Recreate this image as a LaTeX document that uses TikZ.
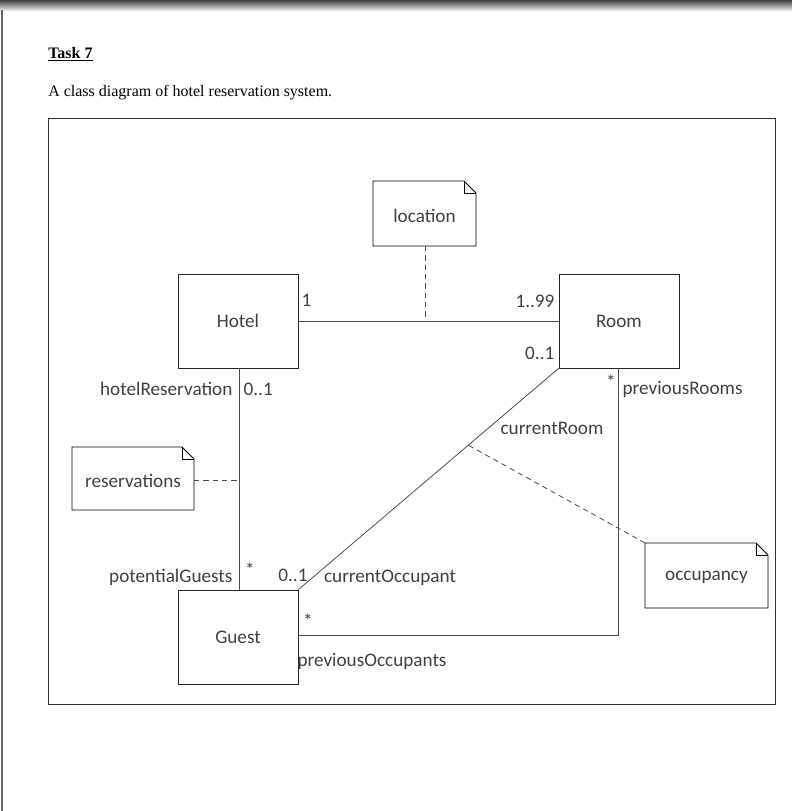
\documentclass[tikz,border=0pt]{standalone}
\usepackage{fontspec}
\setmainfont{Liberation Serif}
\newfontfamily\hand{Carlito}
\begin{document}
\begin{tikzpicture}[x=0.75pt,y=-0.75pt,
  cls/.style={draw=black!85,line width=0.6pt,minimum width=90pt,minimum height=70.5pt,inner sep=0pt,font=\hand\Large,text=black!75},
  lbl/.style={font=\hand\Large,text=black!75,inner sep=1pt},
  ln/.style={draw=black!70,line width=0.6pt},
  dsh/.style={draw=black!70,line width=0.6pt,dash pattern=on 4pt off 3pt}]
\useasboundingbox (0,0) rectangle (792,811);
\shade[top color=black!75,bottom color=black!10] (0,0) rectangle (792,10);
\draw[black!60,line width=1pt] (2,10) -- (2,811);
\node[anchor=base west,font=\fontsize{12}{14}\selectfont\bfseries,inner sep=0pt] (title) at (48,58) {\underline{Task 7}};
\node[anchor=base west,font=\fontsize{12}{14}\selectfont,inner sep=0pt] (sub) at (48,96) {A class diagram of hotel reservation system.};
\draw[black!80,line width=0.7pt] (48,118) rectangle (775,704);
% notes
\newcommand\notebox[5]{%
  \draw[line width=0.6pt] (#1,#2) -- (#3-12,#2) -- (#3,#2+12) -- (#3,#4) -- (#1,#4) -- cycle;
  \draw[line width=0.6pt] (#3-12,#2) -- (#3-12,#2+12) -- (#3,#2+12);
  \node[lbl] at ({(#1+#3)/2},{(#2+#4)/2+2}) {#5};}
\notebox{373}{181}{476}{246}{location}
\notebox{72}{447}{194}{510}{reservations}
\notebox{645}{543}{768}{608}{occupancy}
\coordinate (loc) at (425,246);
\coordinate (res) at (194,480);
\coordinate (occ) at (645,543);
\node[cls] (hotel) at (238,321) {Hotel};
\node[cls] (room) at (619,321) {Room};
\node[cls] (guest) at (238,637) {Guest};
\draw[ln] (hotel.east) -- (room.west);
\draw[dsh] (loc) -- (425,321);
\draw[ln] (239,368) -- (239,590);
\draw[dsh] (res) -- (239,480);
\draw[ln] (room.south west) -- (guest.north east);
\draw[dsh] (occ) -- (468,445);
\draw[ln] (618,368) -- (618,635) -- (298,635);
% labels
\node[lbl,anchor=west] at (300,300) {1};
\node[lbl,anchor=east] at (556,301) {1..99};
\node[lbl,anchor=east] at (556,353) {0..1};
\node[lbl,anchor=east] at (234,389) {hotelReservation};
\node[lbl,anchor=west] at (242,389) {0..1};
\node[lbl] at (611,382) {*};
\node[lbl,anchor=west] at (621,389) {previousRooms};
\node[lbl] at (552,428) {currentRoom};
\node[lbl,anchor=east] at (234,577) {potentialGuests};
\node[lbl] at (250,570) {*};
\node[lbl] at (293,575) {0..1};
\node[lbl] at (390,578) {currentOccupant};
\node[lbl] at (308,621) {*};
\node[lbl] at (372,661) {previousOccupants};
\end{tikzpicture}
\end{document}
